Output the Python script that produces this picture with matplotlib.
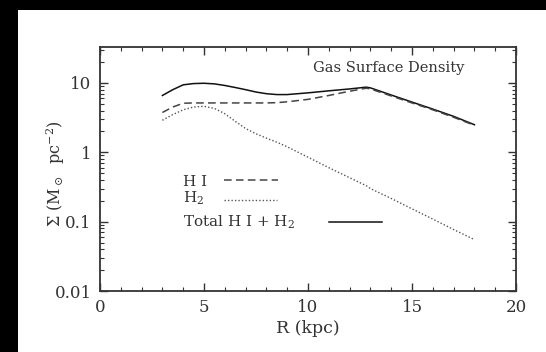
import matplotlib
matplotlib.use("Agg")
import matplotlib.pyplot as plt
from matplotlib.patches import Rectangle
from matplotlib.ticker import FixedLocator, LogLocator, MultipleLocator, NullFormatter

# radius (kpc) and surface densities (Msun / pc^2)
R = [3.0, 3.5, 4.0, 4.5, 5.0, 5.5, 6.0, 6.5, 7.0, 7.5, 8.0, 8.5, 9.0,
     10.0, 11.0, 12.0, 12.8, 13.0, 14.0, 15.0, 16.0, 17.0, 18.0]
sigma_hi = [3.75, 4.5, 5.1, 5.15, 5.15, 5.15, 5.15, 5.15, 5.15, 5.15, 5.15, 5.2, 5.35,
            5.8, 6.6, 7.6, 8.4, 8.2, 6.5, 5.15, 4.1, 3.2, 2.45]
sigma_h2 = [2.9, 3.5, 4.1, 4.5, 4.6, 4.3, 3.6, 2.8, 2.2, 1.85, 1.6, 1.4, 1.2,
            0.85, 0.60, 0.43, 0.33, 0.30, 0.216, 0.153, 0.109, 0.077, 0.055]
sigma_tot = [6.6, 8.0, 9.4, 9.8, 9.9, 9.7, 9.2, 8.6, 8.0, 7.4, 7.0, 6.8, 6.8,
             7.2, 7.7, 8.2, 8.7, 8.5, 6.7, 5.3, 4.2, 3.3, 2.5]

xticks = [0, 5, 10, 15, 20]
yticks = [0.01, 0.1, 1, 10]
ytick_labels = ["0.01", "0.1", "1", "10"]

plt.rcParams['font.family'] = ['DejaVu Serif']
plt.rcParams['mathtext.fontset'] = 'dejavuserif'
txt = '#333333'

fig = plt.figure(figsize=(5.46, 3.52), dpi=100, facecolor='black')
fig.patches.append(Rectangle((18/546, 0), 1, 342/352, transform=fig.transFigure,
                             facecolor='white', edgecolor='none', zorder=-1))
ax = fig.add_axes([100/546, 61/352, 416/546, 244/352])

ax.plot(R, sigma_tot, '-', color='#111111', lw=1.1)
ax.plot(R, sigma_hi, color='#444444', lw=1.1, dashes=(5, 2.8))
ax.plot(R, sigma_h2, color='#555555', lw=1.0, dashes=(1, 1.5))

ax.set_yscale('log')
ax.set_xlim(0, 20)
ax.set_ylim(0.01, 33)
ax.xaxis.set_major_locator(FixedLocator(xticks))
ax.xaxis.set_minor_locator(MultipleLocator(1))
ax.yaxis.set_major_locator(FixedLocator(yticks))
ax.set_yticklabels(ytick_labels)
ax.yaxis.set_minor_locator(LogLocator(base=10, subs=range(2, 10), numticks=20))
ax.yaxis.set_minor_formatter(NullFormatter())
ax.tick_params(which='both', direction='in', top=True, right=True, colors='#333333',
               labelcolor=txt, labelsize=12)
ax.tick_params(which='major', length=6, width=1.0)
ax.tick_params(which='minor', length=3, width=0.8)
ax.tick_params(axis='x', which='major', pad=6)
ax.tick_params(axis='y', which='major', pad=6)
for s in ax.spines.values():
    s.set_linewidth(1.3)
    s.set_color('#333333')

ax.set_xlabel('R (kpc)', color=txt, fontsize=12.5)
ax.xaxis.set_label_coords(0.5, -0.118)
ax.set_ylabel(r'$\Sigma$ (M$_\odot$  pc$^{-2}$)', color=txt, fontsize=11.5)
ax.yaxis.set_label_coords(-0.079, 0.48)

ax.text(0.875, 0.915, 'Gas Surface Density', transform=ax.transAxes, ha='right',
        va='center', fontsize=10.5, color=txt)

# legend drawn by hand like the original
ax.text(0.2, 0.430, 'H I', transform=ax.transAxes, va='baseline', fontsize=11, color=txt)
ax.plot([0.298, 0.427], [0.456, 0.456], transform=ax.transAxes, color='#444444',
        lw=1.1, dashes=(5, 2.8))
ax.text(0.2, 0.361, r'H$_2$', transform=ax.transAxes, va='baseline', fontsize=11, color=txt)
ax.plot([0.298, 0.425], [0.372, 0.372], transform=ax.transAxes, color='#555555',
        lw=1.0, dashes=(1, 1.5))
ax.text(0.2, 0.264, r'Total H I + H$_2$', transform=ax.transAxes, va='baseline',
        fontsize=11, color=txt)
ax.plot([0.55, 0.677], [0.284, 0.284], transform=ax.transAxes, color='#111111', lw=1.1)

fig.savefig('out.png', dpi=100, facecolor=fig.get_facecolor())
